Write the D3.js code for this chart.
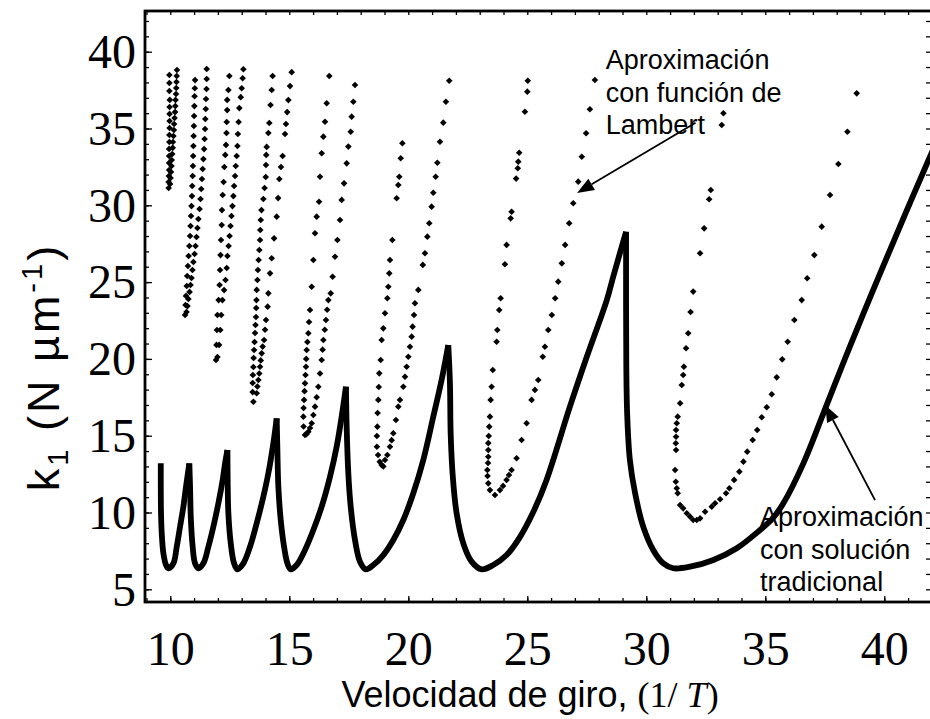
<!DOCTYPE html>
<html>
<head>
<meta charset="utf-8">
<script src="https://cdn.jsdelivr.net/npm/d3@7"></script>
<style>
  body { margin: 0; background: #fff; }
  svg { display: block; }
</style>
</head>
<body>
<svg id="chart" width="930" height="719"></svg>
<script>
// ---- axis ticks -------------------------------------------------------
const xTickLabels = [10, 15, 20, 25, 30, 35, 40];
const yTickLabels = [5, 10, 15, 20, 25, 30, 35, 40];

// ---- traditional solution: one array per lobe (peak -> minimum -> peak) --
const tradLobe0 = [[9.60,13.20],[9.60,11.68],[9.61,9.95],[9.64,8.65],[9.71,7.34],[9.82,6.58],[9.92,6.37],[10.13,6.69],[10.27,7.77],[10.41,9.08],[10.55,10.38],[10.66,11.68],[10.76,12.77],[10.80,13.20]];
const tradLobe1 = [[10.80,13.20],[10.83,11.68],[10.86,9.73],[10.94,7.77],[11.04,6.69],[11.18,6.37],[11.39,6.69],[11.60,7.77],[11.81,9.08],[12.02,10.60],[12.20,12.12],[12.30,13.20],[12.40,14.07]];
const tradLobe2 = [[12.40,14.07],[12.41,12.12],[12.44,9.95],[12.54,7.99],[12.68,6.69],[12.82,6.30],[13.07,6.69],[13.35,7.77],[13.63,9.30],[13.91,11.03],[14.12,12.55],[14.33,14.51],[14.47,16.13]];
const tradLobe3 = [[14.47,16.13],[14.50,14.07],[14.54,11.68],[14.64,9.51],[14.78,7.77],[14.92,6.69],[15.06,6.30],[15.31,6.58],[15.66,7.56],[16.01,8.86],[16.36,10.38],[16.71,12.33],[16.99,14.29],[17.20,16.24],[17.38,18.19]];
const tradLobe4 = [[17.38,18.19],[17.41,15.59],[17.48,12.55],[17.58,10.38],[17.76,8.21],[17.97,6.80],[18.22,6.30],[18.53,6.58],[18.95,7.23],[19.37,8.21],[19.79,9.51],[20.21,11.25],[20.63,13.42],[21.05,16.24],[21.40,18.63],[21.68,20.90]];
const tradLobe5 = [[21.68,20.90],[21.75,18.41],[21.78,15.16],[21.87,12.33],[22.03,9.95],[22.31,7.99],[22.66,6.80],[23.08,6.30],[23.57,6.58],[24.13,7.23],[24.69,8.40],[25.25,10.03],[25.81,12.12],[26.79,16.89],[27.50,20.14],[28.34,23.83],[28.61,25.35],[29.15,28.28]];
const tradLobe6 = [[29.15,28.28],[29.16,19.49],[29.20,16.24],[29.31,13.42],[29.53,11.25],[29.87,9.08],[30.29,7.56],[30.71,6.69],[31.13,6.37],[31.84,6.47],[32.82,6.91],[33.80,7.67],[34.78,8.86],[35.30,9.60],[35.76,10.60],[36.60,13.20],[37.44,16.45],[38.28,19.75],[39.12,22.95],[39.82,25.55],[40.94,29.65],[41.92,33.16],[42.30,34.50]];
const traditionalLobes = [tradLobe0, tradLobe1, tradLobe2, tradLobe3, tradLobe4, tradLobe5, tradLobe6];

// ---- Lambert-function approximation: sampled points, one array per branch pair --
const lambertV1 = [[9.93,31.13],[9.93,31.52],[9.94,31.91],[9.95,32.30],[9.95,32.76],[9.95,33.21],[9.95,33.67],[9.96,34.12],[9.96,34.58],[9.97,35.03],[9.97,35.49],[9.97,35.95],[9.97,36.40],[9.98,36.86],[9.96,37.44],[9.96,37.96],[9.96,38.48],
  [9.99,31.39],[10.01,31.78],[10.03,32.17],[10.05,32.56],[10.06,32.95],[10.08,33.34],[10.10,33.74],[10.11,34.12],[10.13,34.51],[10.15,34.90],[10.16,35.29],[10.18,35.68],[10.20,36.07],[10.21,36.46],[10.22,36.86],[10.24,37.25],[10.25,37.64],[10.26,38.03],[10.27,38.42],[10.28,38.81]];
const lambertV2 = [[10.62,22.86],[10.64,23.51],[10.66,24.10],[10.69,24.75],[10.71,25.40],[10.74,26.05],[10.77,26.70],[10.80,27.35],[10.83,28.00],[10.85,28.65],[10.87,29.30],[10.89,29.95],[10.91,30.60],[10.92,31.26],[10.94,31.91],[10.95,32.56],[10.96,33.21],[10.97,33.86],[10.98,34.51],[10.99,35.16],[11.00,35.81],[11.01,36.46],[11.02,37.10],[11.03,37.62],[11.04,38.15],
  [10.68,23.05],[10.72,23.44],[10.76,23.90],[10.81,24.36],[10.85,24.81],[10.89,25.27],[10.93,25.79],[10.97,26.31],[11.02,26.83],[11.06,27.35],[11.10,27.94],[11.14,28.52],[11.18,29.11],[11.23,29.76],[11.27,30.41],[11.30,31.06],[11.33,31.71],[11.36,32.36],[11.39,33.01],[11.42,33.66],[11.44,34.32],[11.46,34.97],[11.47,35.62],[11.49,36.27],[11.50,36.92],[11.52,37.57],[11.53,38.22],[11.53,38.87]];
const lambertV3 = [[11.92,19.93],[11.94,20.91],[11.96,21.88],[11.98,22.86],[12.03,23.83],[12.07,24.81],[12.09,25.79],[12.11,26.76],[12.13,27.74],[12.16,28.72],[12.17,29.69],[12.20,30.67],[12.24,31.52],[12.27,32.49],[12.31,33.28],[12.34,33.93],[12.36,34.71],[12.37,35.42],[12.39,36.20],[12.39,36.86],[12.44,37.51],[12.48,38.42],
  [11.98,20.12],[12.05,20.91],[12.10,21.88],[12.14,22.86],[12.19,23.83],[12.26,24.48],[12.32,25.14],[12.37,25.92],[12.40,26.70],[12.45,27.35],[12.49,28.00],[12.53,28.65],[12.57,29.30],[12.61,29.95],[12.65,30.60],[12.68,31.26],[12.72,31.91],[12.75,32.56],[12.79,33.21],[12.82,33.86],[12.84,34.64],[12.87,35.42],[12.90,36.33],[12.96,37.04],[13.00,37.62],[13.04,38.27],[13.07,38.86]];
const lambertV4 = [[13.49,17.21],[13.46,17.84],[13.46,18.43],[13.47,18.95],[13.49,19.47],[13.50,20.06],[13.52,20.58],[13.54,21.10],[13.56,21.69],[13.58,22.21],[13.60,22.73],[13.61,23.31],[13.62,23.83],[13.63,24.49],[13.66,25.14],[13.68,25.79],[13.71,26.44],[13.74,27.09],[13.77,27.74],[13.78,28.39],[13.80,29.04],[13.83,29.69],[13.91,30.41],[13.96,31.13],[14.01,31.84],[14.02,32.62],[14.03,33.28],[14.05,33.80],[14.12,34.71],[14.16,35.36],[14.21,36.53],[14.26,37.51],[14.30,38.42],
  [13.63,17.76],[13.66,18.20],[13.70,18.63],[13.74,19.05],[13.77,19.49],[13.80,19.90],[13.84,20.36],[13.88,20.80],[13.94,21.23],[13.98,21.90],[14.02,22.53],[14.09,23.40],[14.12,24.27],[14.19,25.57],[14.26,26.55],[14.36,27.85],[14.47,29.26],[14.53,30.47],[14.58,31.71],[14.65,32.49],[14.72,33.21],[14.82,34.64],[14.86,35.29],[14.91,36.07],[14.96,36.85],[15.03,37.76],[15.10,38.67]];
const lambertV5 = [[15.66,15.05],[15.60,15.60],[15.59,16.24],[15.60,16.80],[15.62,17.33],[15.64,17.90],[15.66,18.41],[15.68,18.95],[15.70,19.49],[15.71,20.00],[15.73,20.58],[15.76,21.10],[15.80,21.67],[15.83,22.40],[15.87,23.18],[15.94,24.70],[16.01,26.44],[16.08,28.18],[16.15,29.26],[16.25,30.23],[16.29,31.86],[16.36,33.39],[16.43,34.47],[16.50,35.44],[16.57,36.64],[16.68,38.42],
  [15.72,15.10],[15.80,15.26],[15.87,15.50],[15.94,15.81],[16.01,16.35],[16.08,16.89],[16.15,17.50],[16.22,18.19],[16.29,19.05],[16.36,19.93],[16.40,20.60],[16.43,21.23],[16.49,21.90],[16.54,22.53],[16.59,23.20],[16.64,23.83],[16.74,24.27],[16.82,25.35],[16.92,26.65],[17.02,27.74],[17.13,29.04],[17.20,30.35],[17.30,31.43],[17.41,32.73],[17.48,33.82],[17.58,34.79],[17.62,35.77],[17.69,36.74],[17.76,37.83]];
const lambertV6 = [[18.88,13.09],[18.80,13.30],[18.73,13.74],[18.68,14.28],[18.68,14.98],[18.70,15.59],[18.71,16.48],[18.74,17.33],[18.76,18.17],[18.78,19.06],[18.84,19.93],[18.88,21.23],[18.95,21.99],[19.02,22.97],[19.12,23.95],[19.16,24.70],[19.20,25.57],[19.23,26.44],[19.33,27.74],[19.51,30.46],[19.58,31.32],[19.62,31.86],[19.68,33.06],[19.75,34.04],
  [18.95,13.00],[19.02,13.42],[19.12,13.74],[19.23,14.28],[19.30,14.71],[19.37,15.16],[19.48,16.02],[19.58,16.89],[19.65,17.33],[19.79,18.19],[19.86,18.84],[19.93,19.49],[20.00,20.14],[20.07,20.79],[20.14,21.45],[20.18,22.10],[20.24,22.86],[20.28,23.62],[20.42,24.49],[20.61,26.12],[20.70,26.88],[20.80,27.96],[20.88,28.83],[20.98,29.91],[21.05,30.82],[21.15,31.86],[21.22,32.77],[21.33,34.14],[21.47,35.38],[21.58,36.74],[21.72,38.11]];
const lambertV7 = [[23.64,11.14],[23.43,11.46],[23.36,11.90],[23.33,12.38],[23.32,12.77],[23.35,13.22],[23.36,13.63],[23.36,14.07],[23.36,14.52],[23.38,14.98],[23.40,15.59],[23.43,16.24],[23.46,17.33],[23.50,18.19],[23.55,19.28],[23.71,21.12],[23.74,21.88],[23.82,23.18],[23.88,23.95],[24.06,26.16],[24.13,27.42],[24.30,29.15],[24.34,29.58],[24.53,31.74],[24.60,32.41],[24.62,32.84],[24.66,33.42],[24.90,36.09],[25.00,37.40],[25.02,38.11],
  [23.85,11.46],[23.98,11.73],[24.13,12.12],[24.23,12.44],[24.34,12.77],[24.55,13.53],[24.76,14.72],[24.97,15.81],[25.18,17.33],[25.32,17.98],[25.46,18.63],[25.65,20.14],[25.74,20.79],[25.88,21.88],[26.03,22.86],[26.17,23.95],[26.30,25.03],[26.45,26.22],[26.59,27.42],[26.76,28.83],[26.93,30.13],[27.14,31.54],[27.29,33.16],[27.47,34.69],[27.63,36.25],[27.84,38.16]];
const lambertV8 = [[32.12,9.51],[31.97,9.51],[31.84,9.73],[31.70,9.95],[31.55,10.27],[31.42,10.49],[31.32,11.25],[31.28,11.58],[31.24,12.00],[31.21,12.77],[31.25,14.07],[31.24,14.51],[31.25,14.93],[31.25,15.37],[31.28,15.81],[31.32,16.24],[31.42,17.11],[31.49,18.30],[31.55,18.95],[31.58,19.49],[31.67,20.69],[31.76,21.67],[31.86,23.05],[31.97,24.38],[32.26,26.88],[32.43,28.50],[32.64,30.39],[32.71,31.00],[33.17,35.23],[33.24,35.99],
  [32.26,9.62],[32.47,10.05],[32.75,10.38],[32.89,10.60],[33.10,10.86],[33.35,11.25],[33.49,11.58],[33.69,12.12],[33.91,12.66],[34.08,13.31],[34.24,13.96],[34.47,14.72],[34.66,15.37],[34.85,16.20],[35.06,16.85],[35.27,17.70],[35.48,18.80],[35.71,19.97],[35.94,21.12],[36.22,22.53],[36.53,23.83],[36.76,25.25],[37.06,26.76],[37.37,28.61],[37.72,30.67],[38.07,32.69],[38.45,34.79],[38.84,37.29]];
const lambertSets = [lambertV1, lambertV2, lambertV3, lambertV4, lambertV5, lambertV6, lambertV7, lambertV8];

// ---- annotation texts ------------------------------------------------
const lambertLabel = ["Aproximación", "con función de", "Lambert"];
const traditionalLabel = ["Aproximación", "con solución", "tradicional"];

// ---- layout ----------------------------------------------------------
const svg = d3.select("#chart");
const frame = { left: 145, right: 933, top: 11, bottom: 602 };

const x = d3.scaleLinear().domain([10, 40]).range([170.3, 884.3]);
const y = d3.scaleLinear().domain([5, 40]).range([589.3, 51.7]);

const sans = "'Liberation Sans', Arial, Helvetica, sans-serif";
const serif = "'Liberation Serif', 'Times New Roman', Times, serif";

svg.append("defs").append("clipPath").attr("id", "plotClip")
  .append("rect")
  .attr("x", frame.left).attr("y", frame.top)
  .attr("width", frame.right - frame.left).attr("height", frame.bottom - frame.top);

// ---- ticks (all pointing into the plot) -------------------------------
const xMinor = d3.range(9, 43);
const yMinor = d3.range(5, 43);

function styleAxis(g) {
  g.select(".domain").remove();
  g.selectAll(".tick line").attr("stroke", "#000").attr("stroke-width", 1.3);
}

svg.append("g").attr("transform", `translate(0,${frame.bottom})`)
  .call(d3.axisBottom(x).tickValues(xMinor).tickSize(-4).tickFormat(""))
  .call(styleAxis);
svg.append("g").attr("transform", `translate(0,${frame.top})`)
  .call(d3.axisTop(x).tickValues(xMinor).tickSize(-4).tickFormat(""))
  .call(styleAxis);
svg.append("g").attr("transform", `translate(${frame.left},0)`)
  .call(d3.axisLeft(y).tickValues(yMinor).tickSize(-4).tickFormat(""))
  .call(styleAxis);
svg.append("g").attr("transform", `translate(${frame.left},0)`)
  .call(d3.axisLeft(y).tickValues(yTickLabels).tickSize(-7).tickFormat(""))
  .call(styleAxis);
svg.append("g").attr("transform", `translate(${frame.right},0)`)
  .call(d3.axisRight(y).tickValues(yMinor).tickSize(-7).tickFormat(""))
  .call(styleAxis);

// tick labels
const xLab = svg.append("g").attr("transform", `translate(0,${frame.bottom})`)
  .call(d3.axisBottom(x).tickValues(xTickLabels).tickSize(-6).tickFormat(d3.format("d")));
styleAxis(xLab);
xLab.selectAll("text")
  .attr("y", 63).attr("dy", null)
  .attr("font-family", serif).attr("font-size", 48).attr("fill", "#000");

const yLab = svg.append("g").attr("transform", `translate(${frame.left},0)`)
  .call(d3.axisLeft(y).tickValues(yTickLabels).tickSize(0).tickFormat(d3.format("d")));
styleAxis(yLab);
yLab.selectAll("text")
  .attr("x", -9).attr("dy", "0.33em")
  .attr("font-family", serif).attr("font-size", 48).attr("fill", "#000");

// ---- plotted series ---------------------------------------------------
const plot = svg.append("g").attr("clip-path", "url(#plotClip)");

const lobeLine = d3.line()
  .x(d => x(d[0])).y(d => y(d[1]))
  .curve(d3.curveCatmullRom.alpha(0.5));

plot.selectAll("path.lobe")
  .data(traditionalLobes)
  .join("path")
  .attr("class", "lobe")
  .attr("d", lobeLine)
  .attr("fill", "none")
  .attr("stroke", "#000")
  .attr("stroke-width", 5.8)
  .attr("stroke-linejoin", "round")
  .attr("stroke-linecap", "butt");

const dot = d3.symbol().type(d3.symbolDiamond2).size(28);
plot.selectAll("g.lambert")
  .data(lambertSets)
  .join("g")
  .attr("class", "lambert")
  .selectAll("path")
  .data(d => d)
  .join("path")
  .attr("transform", d => `translate(${x(d[0])},${y(d[1])})`)
  .attr("d", dot)
  .attr("fill", "#000");

// ---- frame --------------------------------------------------------------
svg.append("rect")
  .attr("x", frame.left).attr("y", frame.top)
  .attr("width", frame.right - frame.left).attr("height", frame.bottom - frame.top)
  .attr("fill", "none").attr("stroke", "#000").attr("stroke-width", 2.8);

// ---- axis titles ---------------------------------------------------------
const xTitle = svg.append("text")
  .attr("x", 530).attr("y", 707)
  .attr("text-anchor", "middle")
  .attr("font-family", sans).attr("font-size", 36).attr("fill", "#000");
xTitle.append("tspan").text("Velocidad de giro, ");
const paren = xTitle.append("tspan").attr("font-family", serif);
paren.append("tspan").text("(1/ ");
paren.append("tspan").attr("font-style", "italic").text("T");
paren.append("tspan").text(")");

const yTitle = svg.append("text")
  .attr("transform", "translate(59,367) rotate(-90)")
  .attr("text-anchor", "middle")
  .attr("letter-spacing", 3)
  .attr("font-family", sans).attr("font-size", 45).attr("fill", "#000");
yTitle.append("tspan").text("k");
yTitle.append("tspan").attr("font-size", 29).attr("dy", 9).text("1");
yTitle.append("tspan").attr("dy", -9).text(" (N \u00B5m");
yTitle.append("tspan").attr("font-size", 29).attr("dy", -17).text("-1");
yTitle.append("tspan").attr("dy", 17).text(")");

// ---- annotations ----------------------------------------------------------
function annotate(lines, tx, ty, from, to) {
  const g = svg.append("g");
  g.selectAll("text")
    .data(lines)
    .join("text")
    .attr("x", x(tx))
    .attr("y", (d, i) => y(ty) + i * 32.5)
    .attr("font-family", sans).attr("font-size", 27).attr("fill", "#000")
    .text(d => d);

  const x1 = x(from[0]), y1 = y(from[1]);
  const x2 = x(to[0]), y2 = y(to[1]);
  const ang = Math.atan2(y2 - y1, x2 - x1);
  const headLen = 17, headHalf = 6.5;
  const bx = x2 - headLen * Math.cos(ang), by = y2 - headLen * Math.sin(ang);
  g.append("line")
    .attr("x1", x1).attr("y1", y1).attr("x2", bx).attr("y2", by)
    .attr("stroke", "#000").attr("stroke-width", 1.8);
  const px = -Math.sin(ang) * headHalf, py = Math.cos(ang) * headHalf;
  g.append("path")
    .attr("d", `M${x2},${y2}L${bx + px},${by + py}L${bx - px},${by - py}Z`)
    .attr("fill", "#000");
}

annotate(lambertLabel, 28.30, 38.85, [32.07, 35.37], [27.09, 30.80]);
annotate(traditionalLabel, 34.78, 9.10, [39.61, 10.81], [37.51, 17.00]);
</script>
</body>
</html>
